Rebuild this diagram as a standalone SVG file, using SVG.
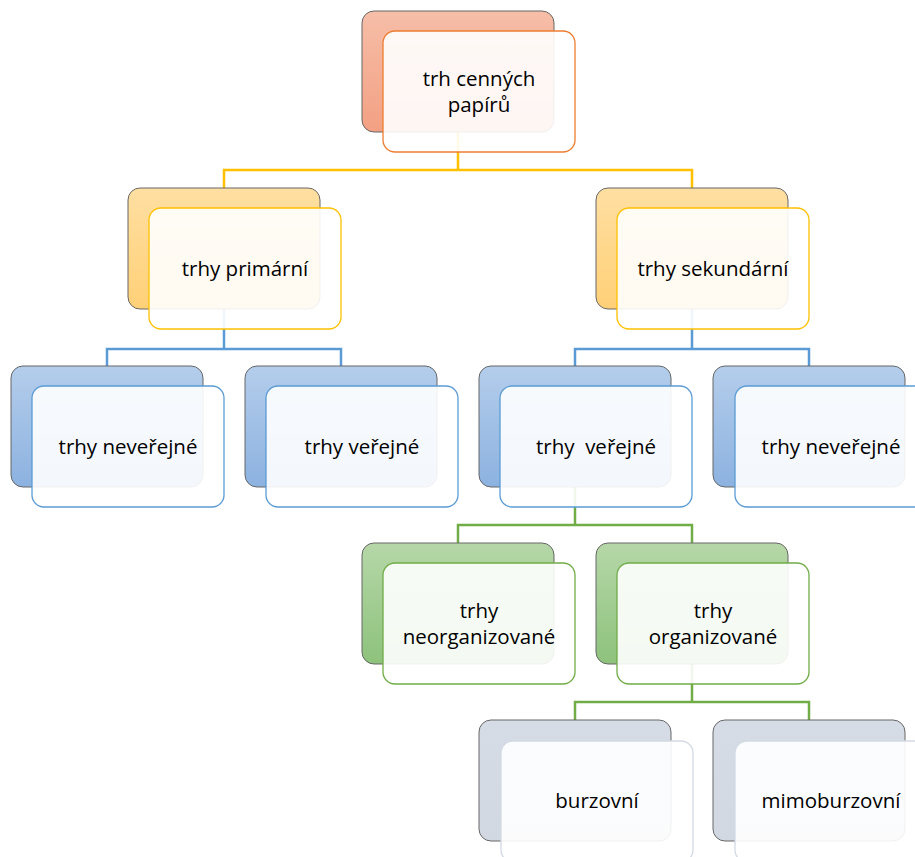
<svg xmlns="http://www.w3.org/2000/svg" width="915" height="857" viewBox="0 0 915 857">
<defs>
<linearGradient id="gSalmon" x1="0" y1="0" x2="0" y2="1"><stop offset="0" stop-color="#F6BEA8"/><stop offset="1" stop-color="#F3A083"/></linearGradient>
<linearGradient id="gGold" x1="0" y1="0" x2="0" y2="1"><stop offset="0" stop-color="#FFDFA2"/><stop offset="1" stop-color="#FFD077"/></linearGradient>
<linearGradient id="gBlue" x1="0" y1="0" x2="0" y2="1"><stop offset="0" stop-color="#B4CDEB"/><stop offset="1" stop-color="#8CB2E0"/></linearGradient>
<linearGradient id="gGreen" x1="0" y1="0" x2="0" y2="1"><stop offset="0" stop-color="#B6D7A8"/><stop offset="1" stop-color="#8DC27C"/></linearGradient>
<linearGradient id="gGray" x1="0" y1="0" x2="0" y2="1"><stop offset="0" stop-color="#D6DCE5"/><stop offset="1" stop-color="#D2D8E2"/></linearGradient>
</defs>
<style>
.back{stroke:#666666;stroke-width:1;}
.front{fill:#ffffff;fill-opacity:0.9;stroke-width:1.3;}
.conn{fill:none;stroke-width:2.5;}
.lbl{font-family:"Open Sans","Liberation Sans",sans-serif;font-size:20.5px;fill:#000;text-anchor:middle;white-space:pre;}
.salmon .back{fill:url(#gSalmon);} .salmon .front{stroke:#ED7D31;}
.gold .back{fill:url(#gGold);} .gold .front{stroke:#FFC000;}
.blue .back{fill:url(#gBlue);} .blue .front{stroke:#5B9BD5;}
.green .back{fill:url(#gGreen);} .green .front{stroke:#70AD47;}
.gray .back{fill:url(#gGray);} .gray .front{stroke:#D3D9E3;}
</style>
<rect width="915" height="857" fill="#ffffff"/>
<g id="connectors">
<path class="conn" stroke="#FFC000" d="M458,132 V170 M224,188 V170 H692 V188"/>
<path class="conn" stroke="#5B9BD5" d="M224,309 V349 M107,366 V349 H341 V366"/>
<path class="conn" stroke="#5B9BD5" d="M692,309 V349 M575,366 V349 H809 V366"/>
<path class="conn" stroke="#70AD47" d="M575,487 V525 M458,543 V525 H692 V543"/>
<path class="conn" stroke="#70AD47" d="M692,664 V702 M575,720 V702 H809 V720"/>
</g>
<g id="node-trh-cennych-papiru" class="salmon">
<rect class="back" x="362" y="11" width="192" height="121" rx="12"/>
<rect class="front" x="383" y="31" width="192" height="121" rx="12"/>
<text class="lbl" x="479" y="86">trh cenných</text>
<text class="lbl" x="479" y="112">papírů</text>
</g>
<g id="node-trhy-primarni" class="gold">
<rect class="back" x="128" y="188" width="192" height="121" rx="12"/>
<rect class="front" x="149" y="208" width="192" height="121" rx="12"/>
<text class="lbl" x="245" y="276">trhy primární</text>
</g>
<g id="node-trhy-sekundarni" class="gold">
<rect class="back" x="596" y="188" width="192" height="121" rx="12"/>
<rect class="front" x="617" y="208" width="192" height="121" rx="12"/>
<text class="lbl" x="713" y="276">trhy sekundární</text>
</g>
<g id="node-trhy-neverejne-1" class="blue">
<rect class="back" x="11" y="366" width="192" height="121" rx="12"/>
<rect class="front" x="32" y="386" width="192" height="121" rx="12"/>
<text class="lbl" x="128" y="454">trhy neveřejné</text>
</g>
<g id="node-trhy-verejne-1" class="blue">
<rect class="back" x="245" y="366" width="192" height="121" rx="12"/>
<rect class="front" x="266" y="386" width="192" height="121" rx="12"/>
<text class="lbl" x="362" y="454">trhy veřejné</text>
</g>
<g id="node-trhy-verejne-2" class="blue">
<rect class="back" x="479" y="366" width="192" height="121" rx="12"/>
<rect class="front" x="500" y="386" width="192" height="121" rx="12"/>
<text class="lbl" x="596" y="454">trhy  veřejné</text>
</g>
<g id="node-trhy-neverejne-2" class="blue">
<rect class="back" x="713" y="366" width="192" height="121" rx="12"/>
<rect class="front" x="735" y="386" width="192" height="121" rx="12"/>
<text class="lbl" x="831" y="454">trhy neveřejné</text>
</g>
<g id="node-trhy-neorganizovane" class="green">
<rect class="back" x="362" y="543" width="192" height="121" rx="12"/>
<rect class="front" x="383" y="563" width="192" height="121" rx="12"/>
<text class="lbl" x="479" y="618">trhy</text>
<text class="lbl" x="479" y="644">neorganizované</text>
</g>
<g id="node-trhy-organizovane" class="green">
<rect class="back" x="596" y="543" width="192" height="121" rx="12"/>
<rect class="front" x="617" y="563" width="192" height="121" rx="12"/>
<text class="lbl" x="713" y="618">trhy</text>
<text class="lbl" x="713" y="644">organizované</text>
</g>
<g id="node-burzovni" class="gray">
<rect class="back" x="479" y="720" width="192" height="121" rx="12"/>
<rect class="front" x="501" y="741" width="192" height="121" rx="12"/>
<text class="lbl" x="597" y="808">burzovní</text>
</g>
<g id="node-mimoburzovni" class="gray">
<rect class="back" x="713" y="720" width="192" height="121" rx="12"/>
<rect class="front" x="735" y="741" width="192" height="121" rx="12"/>
<text class="lbl" x="831" y="808">mimoburzovní</text>
</g>
</svg>
